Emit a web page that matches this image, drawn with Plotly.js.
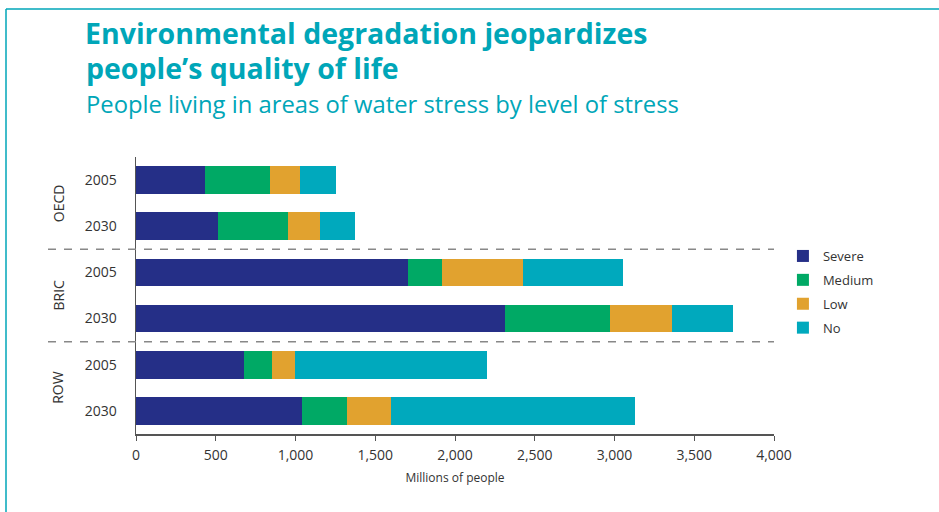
<!DOCTYPE html>
<html>
<head>
<meta charset="utf-8">
<script src="https://cdn.plot.ly/plotly-3.0.1.min.js"></script>
<style>
  html, body { margin: 0; padding: 0; background: #fff; }
  #chart { width: 939px; height: 512px; }
</style>
</head>
<body>
<div id="chart"></div>
<script>
// Data (millions of people)
const categories = ["OECD 2005", "OECD 2030", "BRIC 2005", "BRIC 2030", "ROW 2005", "ROW 2030"];
const yearLabels = ["2005", "2030", "2005", "2030", "2005", "2030"];
const groups = ["OECD", "BRIC", "ROW"];
const seriesNames = ["Severe", "Medium", "Low", "No"];
const severe = [430, 511, 1704, 2312, 675, 1039];
const medium = [408, 440, 213, 659, 175, 282];
const low    = [188, 200, 508, 389, 145, 276];
const none   = [226, 220, 628, 383, 1204, 1531];
const xTicks = [0, 500, 1000, 1500, 2000, 2500, 3000, 3500, 4000];
const titleLines = ["Environmental degradation jeopardizes", "people’s quality of life"];
const subtitle = "People living in areas of water stress by level of stress";

const colors = ["#252f87", "#00a965", "#e1a22f", "#00a9bd"];
const values = [severe, medium, low, none];

const traces = values.map((v, i) => ({
  type: "bar",
  orientation: "h",
  name: seriesNames[i],
  legendgroup: "g" + i,
  x: v,
  y: categories,
  marker: { color: colors[i], line: { width: 0 } },
  width: 0.6,
  hoverinfo: "x+name"
}));

const teal = "#00a6b8";
const font = "'Open Sans', 'Noto Sans', sans-serif";
const W = 939, H = 512;
const T = 157, PH = 277, L = 136, PW = 638;

const layout = {
  width: W,
  height: H,
  paper_bgcolor: "#ffffff",
  plot_bgcolor: "#ffffff",
  barmode: "stack",
  margin: { l: L, r: W - L - PW, t: T, b: H - T - PH },
  font: { family: font, color: "#333333", size: 14 },
  title: {
    text: "<b>" + titleLines[0] + "</b>",
    font: { family: font, size: 28.5, color: teal },
    xref: "container", x: 85 / W, xanchor: "left",
    yref: "container", y: 1 - 24 / H, yanchor: "top"
  },
  xaxis: {
    range: [0, 4000],
    tickvals: xTicks,
    ticktext: xTicks.map(v => v.toLocaleString("en-US")),
    ticks: "outside",
    ticklen: 5,
    tickcolor: "#555555",
    tickwidth: 1,
    ticklabelstandoff: 3,
    showline: true,
    linecolor: "#555555",
    linewidth: 1.5,
    showgrid: false,
    zeroline: false,
    tickfont: { size: 14, color: "#333333" },
    title: { text: "Millions of people", font: { size: 12, color: "#333333" }, standoff: 10 },
    fixedrange: true
  },
  yaxis: {
    type: "category",
    categoryorder: "array",
    categoryarray: categories,
    autorange: "reversed",
    tickvals: categories,
    ticktext: yearLabels,
    ticks: "",
    ticklabelstandoff: 15,
    showline: true,
    linecolor: "#555555",
    linewidth: 1.5,
    showgrid: false,
    zeroline: false,
    tickfont: { size: 14, color: "#333333" },
    fixedrange: true
  },
  showlegend: true,
  legend: {
    x: 1.014, xanchor: "left",
    y: 1 - (241 - T) / PH, yanchor: "top",
    traceorder: "grouped",
    font: { size: 13, color: "#333333" },
    itemwidth: 30,
    tracegroupgap: 4,
    bgcolor: "rgba(0,0,0,0)"
  },
  bargap: 0.4,
  annotations: groups.map((g, i) => ({
    text: g,
    xref: "paper", x: (58 - L) / PW, xanchor: "center",
    yref: "y", y: i * 2 + 0.5, yanchor: "middle",
    textangle: -90,
    showarrow: false,
    font: { size: 14, color: "#333333" }
  })).concat([
    {
      text: "<b>" + titleLines[1] + "</b>",
      xref: "paper", x: (84 - L) / PW, xanchor: "left",
      yref: "paper", y: 1 + (T - 47) / PH, yanchor: "top",
      showarrow: false,
      font: { family: font, size: 28.5, color: teal }
    },
    {
      text: subtitle,
      xref: "paper", x: (84 - L) / PW, xanchor: "left",
      yref: "paper", y: 1 + (T - 86) / PH, yanchor: "top",
      showarrow: false,
      font: { family: font, size: 23.8, color: teal }
    }
  ]),
  shapes: [
    { type: "line", xref: "paper", yref: "y", x0: (48 - L) / PW, x1: 1.0, y0: 1.5, y1: 1.5,
      line: { color: "#888888", width: 1.5, dash: "8px,8px" } },
    { type: "line", xref: "paper", yref: "y", x0: (48 - L) / PW, x1: 1.0, y0: 3.5, y1: 3.5,
      line: { color: "#888888", width: 1.5, dash: "8px,8px" } },
    // frame
    { type: "line", xref: "paper", yref: "paper", x0: (6 - L) / PW, x1: 1.3, y0: 1 + (T - 9) / PH, y1: 1 + (T - 9) / PH,
      line: { color: teal, width: 1.5 } },
    { type: "line", xref: "paper", yref: "paper", x0: (6 - L) / PW, x1: (6 - L) / PW, y0: 1 + (T - 9) / PH, y1: -0.4,
      line: { color: teal, width: 1.5 } }
  ]
};

Plotly.newPlot("chart", traces, layout, { displayModeBar: false, staticPlot: true });
</script>
</body>
</html>
